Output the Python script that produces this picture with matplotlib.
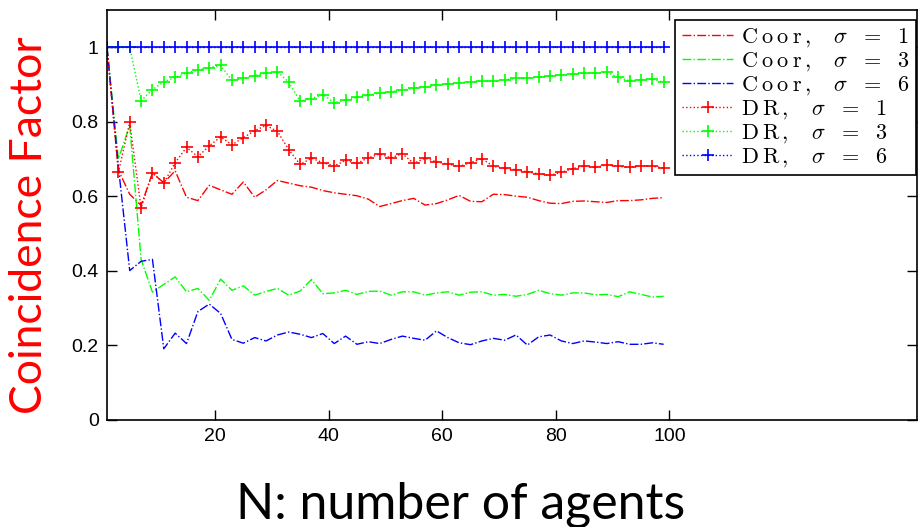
import numpy as np
import matplotlib
matplotlib.use('Agg')
import matplotlib.pyplot as plt

plt.rcParams['mathtext.fontset'] = 'cm'

# number of agents
n = np.arange(1, 100, 2)

coor_s1 = [1.0, 0.67, 0.605, 0.575, 0.662, 0.636, 0.668, 0.597, 0.588, 0.629,
           0.617, 0.605, 0.638, 0.597, 0.617, 0.642, 0.635, 0.628, 0.624, 0.615,
           0.609, 0.605, 0.601, 0.592, 0.572, 0.58, 0.588, 0.594, 0.576, 0.58,
           0.59, 0.602, 0.586, 0.585, 0.605, 0.604, 0.600, 0.597, 0.588, 0.581,
           0.580, 0.586, 0.587, 0.585, 0.583, 0.588, 0.588, 0.590, 0.594, 0.596]
coor_s3 = [1.0, 0.70, 0.79, 0.43, 0.342, 0.363, 0.383, 0.343, 0.352, 0.32,
           0.377, 0.347, 0.359, 0.334, 0.344, 0.352, 0.334, 0.345, 0.376, 0.338,
           0.340, 0.347, 0.336, 0.344, 0.345, 0.334, 0.343, 0.343, 0.334, 0.340,
           0.343, 0.334, 0.342, 0.343, 0.334, 0.336, 0.331, 0.336, 0.347, 0.338,
           0.334, 0.340, 0.340, 0.335, 0.336, 0.330, 0.343, 0.336, 0.329, 0.331]
coor_s6 = [1.0, 0.68, 0.40, 0.425, 0.43, 0.19, 0.232, 0.204, 0.29, 0.31,
           0.285, 0.215, 0.205, 0.22, 0.211, 0.227, 0.235, 0.229, 0.220, 0.231,
           0.204, 0.224, 0.202, 0.209, 0.204, 0.215, 0.224, 0.218, 0.213, 0.238,
           0.220, 0.206, 0.201, 0.211, 0.218, 0.213, 0.227, 0.200, 0.222, 0.227,
           0.211, 0.204, 0.211, 0.208, 0.204, 0.209, 0.202, 0.202, 0.206, 0.202]
dr_s1 = [1.0, 0.664, 0.798, 0.568, 0.663, 0.635, 0.690, 0.731, 0.706, 0.735,
         0.759, 0.738, 0.757, 0.776, 0.790, 0.774, 0.725, 0.685, 0.702, 0.690,
         0.681, 0.696, 0.688, 0.703, 0.713, 0.703, 0.714, 0.688, 0.702, 0.692,
         0.686, 0.680, 0.690, 0.701, 0.680, 0.675, 0.671, 0.665, 0.660, 0.656,
         0.664, 0.674, 0.681, 0.677, 0.684, 0.680, 0.677, 0.682, 0.680, 0.676]
dr_s3 = [1.0, 1.0, 1.0, 0.856, 0.886, 0.907, 0.919, 0.931, 0.939, 0.945,
         0.951, 0.911, 0.916, 0.924, 0.930, 0.934, 0.906, 0.855, 0.862, 0.873,
         0.851, 0.858, 0.865, 0.871, 0.877, 0.881, 0.885, 0.890, 0.893, 0.898,
         0.901, 0.905, 0.907, 0.909, 0.909, 0.913, 0.916, 0.917, 0.920, 0.923,
         0.925, 0.928, 0.930, 0.930, 0.933, 0.919, 0.910, 0.913, 0.914, 0.906]
dr_s6 = [1.0] * 50

labels = [r'$\mathrm{C\:o\:o\:r\,,}\ \ \ \sigma\ \ =\ \ 1$',
          r'$\mathrm{C\:o\:o\:r\,,}\ \ \ \sigma\ \ =\ \ 3$',
          r'$\mathrm{C\:o\:o\:r\,,}\ \ \ \sigma\ \ =\ \ 6$',
          r'$\mathrm{D\:R\,,}\ \ \ \sigma\ \ =\ \ 1$',
          r'$\mathrm{D\:R\,,}\ \ \ \sigma\ \ =\ \ 3$',
          r'$\mathrm{D\:R\,,}\ \ \ \sigma\ \ =\ \ 6$']

fig = plt.figure(figsize=(9.22, 5.27), dpi=100)
ax = fig.add_axes([107 / 922, 1 - 419.5 / 527, 810 / 922, 409.5 / 527])

red, green, blue = '#ff0000', '#00ff00', '#0000ff'
ax.plot(n, coor_s1, '-.', color=red, lw=1, label=labels[0])
ax.plot(n, coor_s3, '-.', color=green, lw=1, label=labels[1])
ax.plot(n, coor_s6, '-.', color=blue, lw=1, label=labels[2])
ax.plot(n, dr_s1, ':', color=red, lw=1, marker='+', ms=9, mew=1.2, label=labels[3])
ax.plot(n, dr_s3, ':', color=green, lw=1, marker='+', ms=9, mew=1.2, label=labels[4])
ax.plot(n, dr_s6, ':', color=blue, lw=1, marker='+', ms=9, mew=1.2, label=labels[5])

ax.set_xlim(1, 143.6)
ax.set_ylim(0, 1.1)
ax.set_xticks([20, 40, 60, 80, 100])
ax.set_yticks([0, 0.2, 0.4, 0.6, 0.8, 1])
ax.set_yticklabels(['0', '0.2', '0.4', '0.6', '0.8', '1'])
ax.tick_params(direction='in', length=7, width=1, top=True, right=True,
               labelsize=14, pad=6)
for lbl in ax.get_xticklabels() + ax.get_yticklabels():
    lbl.set_family('Liberation Sans')
for s in ax.spines.values():
    s.set_linewidth(1.2)

leg = ax.legend(loc='upper right', bbox_to_anchor=(0.999, 0.976), borderaxespad=0,
                fontsize=16, labelspacing=0.05, handlelength=2.3, handletextpad=0.35,
                borderpad=0.3, fancybox=False, framealpha=1, edgecolor='black')
leg.get_frame().set_linewidth(1.2)

fig.text(461 / 922, 1 - 505 / 527, 'N: number of agents', family='Lato',
         fontsize=36, ha='center', va='center')
fig.text(29 / 922, 1 - 225 / 527, 'Coincidence Factor', family='Lato',
         fontsize=32, color='red', rotation=90, ha='center', va='center')

fig.savefig('out.png', dpi=100)
